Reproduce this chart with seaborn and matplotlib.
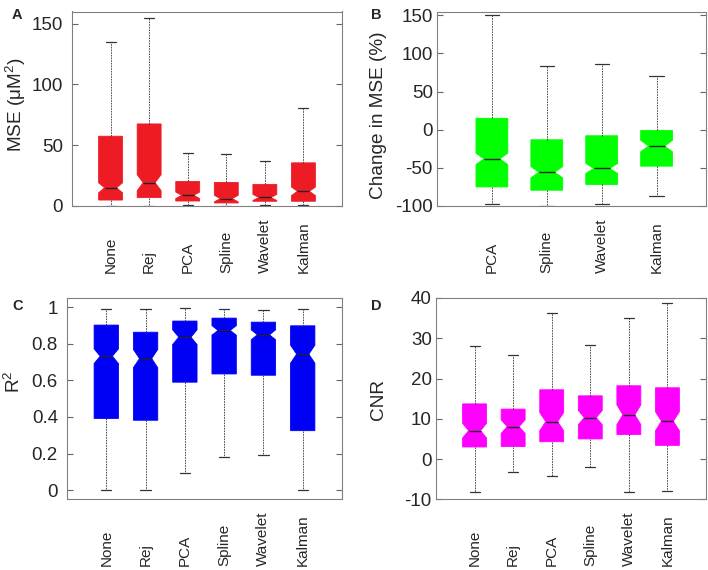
import numpy as np
import pandas as pd
import matplotlib
matplotlib.use("Agg")
import matplotlib.pyplot as plt
import seaborn as sns
from matplotlib.ticker import FuncFormatter

# categories
methods6 = ["None", "Rej", "PCA", "Spline", "Wavelet", "Kalman"]
methods4 = ["PCA", "Spline", "Wavelet", "Kalman"]

# A: MSE (uM^2) - five-number summaries + notch half-width
mse_min = [0.3, 0.2, 0.5, 0.2, 1.0, 0.5]
mse_q1 = [4.9, 6.9, 4.1, 2.5, 3.9, 3.9]
mse_med = [15.0, 19.2, 8.8, 6.1, 7.0, 12.1]
mse_q3 = [57.4, 67.5, 20.2, 19.4, 17.8, 35.5]
mse_max = [135.2, 154.7, 43.4, 42.8, 37.0, 80.5]
mse_notch = [4.1, 6.6, 2.7, 2.7, 2.5, 3.5]

# B: change in MSE (%)
chg_min = [-97.8, -99.5, -96.8, -86.8]
chg_q1 = [-75.0, -79.3, -71.8, -47.8]
chg_med = [-38.2, -55.7, -50.8, -21.4]
chg_q3 = [15.0, -13.2, -7.9, -0.9]
chg_max = [150.5, 83.4, 86.0, 70.2]
chg_notch = [7.5, 7.5, 6.6, 7.5]

# C: R^2
r2_min = [0.0, 0.0, 0.093, 0.181, 0.192, 0.0]
r2_q1 = [0.392, 0.382, 0.590, 0.635, 0.628, 0.325]
r2_med = [0.732, 0.719, 0.836, 0.873, 0.849, 0.743]
r2_q3 = [0.902, 0.863, 0.924, 0.940, 0.918, 0.898]
r2_max = [0.989, 0.989, 0.998, 0.991, 0.986, 0.989]
r2_notch = [0.04, 0.05, 0.04, 0.026, 0.027, 0.049]

# D: CNR
cnr_min = [-8.1, -3.3, -4.3, -2.1, -8.3, -8.0]
cnr_q1 = [3.0, 3.1, 4.3, 5.0, 6.1, 3.4]
cnr_med = [7.05, 8.05, 9.3, 10.3, 11.0, 9.4]
cnr_q3 = [13.7, 12.4, 17.2, 15.7, 18.2, 17.7]
cnr_max = [28.2, 25.9, 36.2, 28.4, 35.1, 38.75]
cnr_notch = [1.8, 1.66, 2.3, 1.75, 2.5, 2.4]


def summary_frame(methods, lo, q1, med, q3, hi, notch):
    # repeat the five numbers so the quartiles come out exact and
    # the notch (1.57*IQR/sqrt(n)) matches the read half-width
    rows = []
    for m, a, b, c, d, e, h in zip(methods, lo, q1, med, q3, hi, notch):
        n = (1.57 * (d - b) / h) ** 2
        k = max(1, int(round(n / 5)))
        vals = np.repeat([a, b, c, d, e], k)
        rows.append(pd.DataFrame({"method": m, "value": vals}))
    return pd.concat(rows, ignore_index=True)


def draw_panel(ax, methods, stats, color, width, ylabel, ylim, yticks,
               label_xy, ypad, xpad, xlim):
    df = summary_frame(methods, *stats)
    sns.boxplot(data=df, x="method", y="value", order=methods, ax=ax,
                color=color, linecolor=color, saturation=1, width=width,
                notch=True, whis=(0, 100), fliersize=0, linewidth=0.6,
                medianprops=dict(color="#222222", linewidth=1.0),
                whiskerprops=dict(color="#333333", linewidth=0.6,
                                  linestyle=(0, (2, 1.2))),
                capprops=dict(color="#333333", linewidth=0.9),
                capwidths=0.26)
    ax.set_xlim(*xlim)
    ax.set_ylim(*ylim)
    ax.set_yticks(yticks)
    ax.yaxis.set_major_formatter(FuncFormatter(lambda v, p: f"{v:g}"))
    ax.set_xticks(range(len(methods)))
    ax.tick_params(axis="x", length=0, pad=xpad, labelsize=11, labelrotation=90)
    ax.set_xticklabels(methods)
    for lbl in ax.get_xticklabels():
        lbl.set_verticalalignment("bottom")
        lbl.set_horizontalalignment("center")
    ax.tick_params(axis="y", direction="in", length=4, left=True, right=True,
                   labelsize=13.5, pad=ypad, color="#666666")
    ax.set_xlabel("")
    ax.set_ylabel(ylabel, fontsize=13.7)
    ax.yaxis.set_label_coords(*label_xy)
    for sp in ax.spines.values():
        sp.set_visible(True)
        sp.set_color("#808080")
        sp.set_linewidth(0.8)


sns.set_style("white")
plt.rcParams["font.family"] = ["Liberation Sans", "DejaVu Sans"]
plt.rcParams["mathtext.default"] = "regular"
plt.rcParams["axes.unicode_minus"] = False

W, H = 708, 570
fig = plt.figure(figsize=(W / 100, H / 100), dpi=100)


def px_axes(left, top, right, bottom):
    return fig.add_axes([left / W, 1 - bottom / H, (right - left) / W, (bottom - top) / H])


axA = px_axes(72, 11.5, 342, 206)
axB = px_axes(437, 11.5, 706, 206)
axC = px_axes(67, 298, 342, 499.3)
axD = px_axes(436, 298, 706, 499.3)

draw_panel(axA, methods6, (mse_min, mse_q1, mse_med, mse_q3, mse_max, mse_notch),
           "#ed1c24", 0.62, "MSE (μM$^2$)", (0, 160), [0, 50, 100, 150],
           (-0.163, 0.524), 6.5, 48.5, (-1, 6))
draw_panel(axB, methods4, (chg_min, chg_q1, chg_med, chg_q3, chg_max, chg_notch),
           "#00ff00", 0.58, "Change in MSE (%)", (-100, 155), list(range(-100, 151, 50)),
           (-0.186, 0.465), 3, 48, (-1, 3.9))
draw_panel(axC, methods6, (r2_min, r2_q1, r2_med, r2_q3, r2_max, r2_notch),
           "#0000f5", 0.62, "R$^2$", (-0.05, 1.05), [0, 0.2, 0.4, 0.6, 0.8, 1],
           (-0.156, 0.583), 6.5, 48, (-1, 6))
draw_panel(axD, methods6, (cnr_min, cnr_q1, cnr_med, cnr_q3, cnr_max, cnr_notch),
           "#ff00ff", 0.62, "CNR", (-10, 40), list(range(-10, 41, 10)),
           (-0.181, 0.498), 3, 48, (-1, 6))

for lab, x, y in [("A", 12, 8), ("B", 371, 8), ("C", 12, 299), ("D", 371, 299)]:
    fig.text(x / W, 1 - y / H, lab, fontsize=10.5, fontweight="bold", va="top", ha="left")

fig.savefig("out.png", dpi=100)
